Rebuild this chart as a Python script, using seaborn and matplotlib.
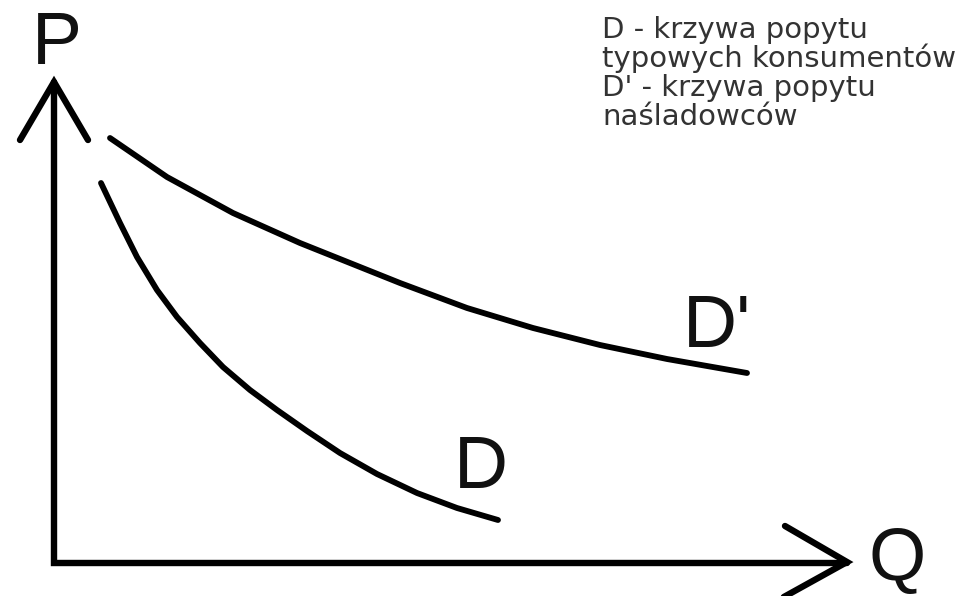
import pandas as pd
import seaborn as sns
import matplotlib.pyplot as plt

# curve points (pixel space, y grows downward)
d_x = [101, 120, 137, 157, 177, 200, 223, 250, 277, 307, 340, 377, 417, 457, 498]
d_y = [183, 223, 257, 290, 317, 343, 367, 390, 410, 431, 453, 474, 493, 508, 520]

d2_x = [110, 167, 233, 300, 360, 400, 467, 533, 600, 667, 747]
d2_y = [138, 177, 213, 243, 267, 283, 308, 328, 345, 359, 373]

# axes with arrow heads
axis_x = [54, 54, 847]
axis_y = [82, 563, 563]
p_head_x = [20, 54, 88]
p_head_y = [140, 82, 140]
q_head_x = [785, 847, 782]
q_head_y = [526, 562, 598]

legend_lines = ["D - krzywa popytu", "typowych konsumentów",
                "D' - krzywa popytu", "naśladowców"]

sns.set_theme(style="white")
plt.rcParams['font.family'] = ['Liberation Sans', 'DejaVu Sans']

fig = plt.figure(figsize=(9.75, 5.96), dpi=100)
ax = fig.add_axes([0, 0, 1, 1])

kw = dict(color='black', sort=False, estimator=None, ax=ax)
sns.lineplot(x=axis_x, y=axis_y, linewidth=4.6, **kw)
sns.lineplot(x=p_head_x, y=p_head_y, linewidth=4.6, **kw)
sns.lineplot(x=q_head_x, y=q_head_y, linewidth=4.6, **kw)
for ln in ax.lines:
    ln.set_solid_joinstyle('miter')
sns.lineplot(x=d_x, y=d_y, linewidth=4.2, **kw)
sns.lineplot(x=d2_x, y=d2_y, linewidth=4.2, **kw)
for ln in ax.lines[3:]:
    ln.set_solid_joinstyle('round')

ax.set_xlim(0, 975)
ax.set_ylim(596, 0)
ax.axis('off')

ax.text(57, 64, "P", fontsize=54, ha='center', va='baseline', color='#111')
ax.text(897, 580, "Q", fontsize=53, ha='center', va='baseline', color='#111')
ax.text(481, 488, "D", fontsize=54, ha='center', va='baseline', color='#111')
ax.text(717, 347, "D'", fontsize=54, ha='center', va='baseline', color='#111')

# legend text is wider than the big letters, DejaVu fits its width better
for i, line in enumerate(legend_lines):
    ax.text(602, 38 + i * 29, line, fontsize=21, ha='left', va='baseline',
            color='#333', family='DejaVu Sans')

fig.savefig('out.png', dpi=100, facecolor='white')
